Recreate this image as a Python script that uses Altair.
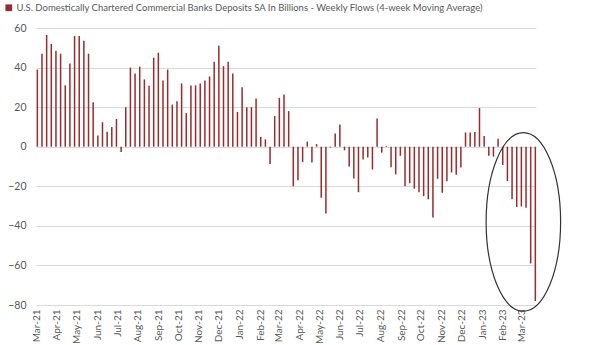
import altair as alt
import pandas as pd

title_text = "U.S. Domestically Chartered Commercial Banks Deposits SA In Billions - Weekly Flows (4-week Moving Average)"

first_week = "2021-03-03"
values = [
    39, 47, 56.5, 52, 48.5, 47, 31, 42, 56, 56,
    53.5, 47, 22.5, 5.7, 12.4, 7.6, 10, 14, -2.7, 20,
    40, 37, 40.5, 34, 30.8, 45, 47.5, 33.5, 39, 21.3,
    23, 32, 17, 31, 31, 32, 33.5, 35.5, 43, 51,
    40.7, 43, 37, 17.6, 30, 20, 20, 24.4, 5, 3.7,
    -8.7, 15.5, 24.7, 26.4, 18, -20, -17, -7.8, 2.6, -8,
    1.3, -25.8, -33.7, -0.4, 6.7, 11.2, -1.8, -10, -16.1, -23,
    -6.5, -5.4, -11.5, 14.3, -3, 0.4, -10.4, -14, -4.6, -20,
    -18.5, -21.2, -23, -25, -26.6, -35.8, -16.2, -23.3, -17.4, -13,
    -14.2, -10.5, 7.2, 7.2, 7.4, 19.5, 5.4, -4.6, -5, 4,
    -9.2, -17.4, -26.6, -30.4, -30.2, -30.8, -59, -78,
]
dates = pd.date_range(first_week, periods=len(values), freq="7D").strftime("%Y-%m-%dT00:00:00")

y_ticks = [-80, -60, -40, -20, 0, 20, 40, 60]

df = pd.DataFrame({"date": dates, "value": values, "series": title_text})

# annotation ellipse around the last weeks
ellipse_df = pd.DataFrame({"date": ["2023-03-04T00:00:00"], "value": [-38]})

font = "Lato"
grey = "#595959"
bar_color = "#9a2b2c"

x_scale = alt.Scale(domain=[alt.DateTime(year=2021, month=3, date=1),
                            alt.DateTime(year=2023, month=3, date=23)], padding=0)
y_scale = alt.Scale(domain=[-80, 60], nice=False, zero=False)

x_axis = alt.Axis(format="%b-%y", tickCount=alt.TickCount(interval="month", step=1),
                  labelAngle=-90, labelAlign="right", labelBaseline="middle",
                  labelPadding=4, ticks=False, domain=False, grid=False,
                  labelFont=font, labelFontSize=10, labelColor=grey,
                  labelOverlap=False, labelFlush=False)
y_axis = alt.Axis(values=y_ticks, ticks=False, domain=False, labelPadding=10,
                  labelFont=font, labelFontSize=10.5, labelColor=grey,
                  labelOverlap=False, labelFlush=False,
                  gridColor="#d9d9d9", gridWidth=1)

bars = alt.Chart(df).mark_bar(size=1.5).encode(
    x=alt.X("date:T", scale=x_scale, title=None, axis=x_axis),
    y=alt.Y("value:Q", scale=y_scale, title=None, axis=y_axis),
    y2=alt.datum(0),
    color=alt.Color("series:N", scale=alt.Scale(range=[bar_color]),
                    legend=alt.Legend(title=None, orient="none", legendX=-32, legendY=-25,
                                      symbolType="square", symbolSize=45, symbolStrokeWidth=0,
                                      labelFont=font, labelFontSize=9.5, labelColor=grey,
                                      labelLimit=0, labelOffset=3, padding=0)),
)

ellipse_path = "M -0.417 0 A 0.417 1 0 1 0 0.417 0 A 0.417 1 0 1 0 -0.417 0 Z"
ellipse = alt.Chart(ellipse_df).mark_point(
    shape=ellipse_path, size=31900, filled=False, stroke="#333333", strokeWidth=1.2, opacity=1
).encode(
    x=alt.X("date:T", scale=x_scale, title=None, axis=x_axis),
    y=alt.Y("value:Q", scale=y_scale, title=None, axis=y_axis),
)

chart = alt.layer(bars, ellipse).properties(
    width=500, height=277,
    autosize=alt.AutoSizeParams(type="none"),
    padding={"left": 36, "top": 28, "right": 64, "bottom": 40},
    background="white",
).configure_view(stroke=None)

chart.save("out.html", embed_options={"renderer": "svg", "actions": False})
